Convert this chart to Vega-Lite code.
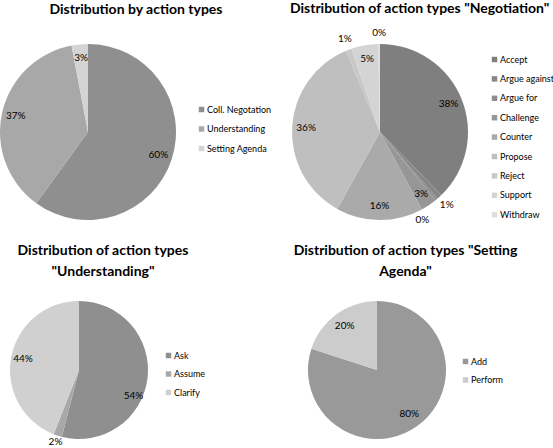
{
  "$schema": "https://vega.github.io/schema/vega-lite/v6.json",
  "padding": {"top": 2, "left": 0, "right": 0, "bottom": 0},
  "background": "white",
  "config": {
    "view": {"stroke": null},
    "font": "Lato",
    "title": {"font": "Lato", "fontSize": 14, "fontWeight": "bold", "color": "#000000", "anchor": "middle", "frame": "bounds", "lineHeight": 21},
    "legend": {"orient": "none", "title": null, "symbolType": "square", "symbolSize": 30, "symbolStrokeWidth": 0, "labelFont": "Lato", "labelFontSize": 9, "labelColor": "#000000", "labelOffset": 1, "rowPadding": 9.4},
    "text": {"font": "Lato", "fontSize": 10, "color": "#000000"}
  },
  "resolve": {"scale": {"color": "independent", "theta": "independent", "radius": "independent"}, "legend": {"color": "independent"}},
  "spacing": 19,
  "vconcat": [
    {
      "spacing": 13,
      "resolve": {"scale": {"color": "independent", "theta": "independent", "radius": "independent"}, "legend": {"color": "independent"}},
      "hconcat": [
        {
          "width": 176, "height": 176,
          "title": {"text": "Distribution by action types", "offset": 27},
          "data": {"values": [
            {"type": "Coll. Negotation", "v": 0.60, "o": 1},
            {"type": "Understanding", "v": 0.37, "o": 2},
            {"type": "Setting Agenda", "v": 0.03, "o": 3}
          ]},
          "encoding": {
            "theta": {"field": "v", "type": "quantitative", "stack": true},
            "order": {"field": "o", "type": "quantitative"}
          },
          "layer": [
            {
              "mark": {"type": "arc", "outerRadius": 88},
              "encoding": {
                "color": {"field": "type", "type": "nominal",
                  "scale": {"domain": ["Coll. Negotation", "Understanding", "Setting Agenda"], "range": ["#8f8f8f", "#a8a8a8", "#d4d4d4"]},
                  "legend": {"legendX": 197, "legendY": 61, "rowPadding": 9.5}}
              }
            },
            {
              "mark": {"type": "text", "radius": 74},
              "encoding": {"text": {"field": "v", "type": "quantitative", "format": ".0%"}}
            }
          ]
        },
        {
          "width": 176, "height": 176,
          "title": {"text": "Distribution of action types \"Negotiation\"", "offset": 12},
          "data": {"values": [
            {"type": "Accept", "v": 0.378, "o": 1},
            {"type": "Argue against", "v": 0.010, "o": 2},
            {"type": "Argue for", "v": 0.004, "o": 3},
            {"type": "Challenge", "v": 0.030, "o": 4},
            {"type": "Counter", "v": 0.160, "o": 5},
            {"type": "Propose", "v": 0.357, "o": 6},
            {"type": "Reject", "v": 0.010, "o": 7},
            {"type": "Support", "v": 0.050, "o": 8},
            {"type": "Withdraw", "v": 0.003, "o": 9}
          ]},
          "encoding": {
            "theta": {"field": "v", "type": "quantitative", "stack": true},
            "order": {"field": "o", "type": "quantitative"}
          },
          "layer": [
            {
              "mark": {"type": "arc", "outerRadius": 88},
              "encoding": {
                "color": {"field": "type", "type": "nominal",
                  "scale": {"domain": ["Accept", "Argue against", "Argue for", "Challenge", "Counter", "Propose", "Reject", "Support", "Withdraw"],
                            "range": ["#7f7f7f", "#878787", "#8e8e8e", "#969696", "#aaaaaa", "#bfbfbf", "#c8c8c8", "#d4d4d4", "#dedede"]},
                  "legend": {"legendX": 198, "legendY": 11}}
              }
            },
            {
              "mark": {"type": "text"},
              "encoding": {
                "radius": {"field": "v", "type": "quantitative", "scale": {"type": "linear", "domain": [0.015, 0.025], "range": [99, 74], "clamp": true, "zero": false}},
                "text": {"condition": {"test": "datum.type != 'Argue for'", "field": "v", "type": "quantitative", "format": ".0%"}, "value": ""}
              }
            },
            {
              "mark": {"type": "text", "dx": -21, "dy": 12},
              "encoding": {
                "radius": {"field": "v", "type": "quantitative", "scale": {"type": "linear", "domain": [0.015, 0.025], "range": [98, 74], "clamp": true, "zero": false}},
                "text": {"condition": {"test": "datum.type == 'Argue for'", "field": "v", "type": "quantitative", "format": ".0%"}, "value": ""}
              }
            }
          ]
        }
      ]
    },
    {
      "spacing": 87,
      "resolve": {"scale": {"color": "independent", "theta": "independent", "radius": "independent"}, "legend": {"color": "independent"}},
      "hconcat": [
        {
          "width": 158, "height": 138,
          "title": {"text": ["Distribution of action types", "\"Understanding\""], "offset": 22},
          "data": {"values": [
            {"type": "Ask", "v": 0.54, "o": 1},
            {"type": "Assume", "v": 0.02, "o": 2},
            {"type": "Clarify", "v": 0.44, "o": 3}
          ]},
          "encoding": {
            "theta": {"field": "v", "type": "quantitative", "stack": true},
            "order": {"field": "o", "type": "quantitative"}
          },
          "layer": [
            {
              "mark": {"type": "arc", "outerRadius": 69},
              "encoding": {
                "color": {"field": "type", "type": "nominal",
                  "scale": {"domain": ["Ask", "Assume", "Clarify"], "range": ["#8f8f8f", "#a8a8a8", "#d0d0d0"]},
                  "legend": {"legendX": 164, "legendY": 50, "rowPadding": 8.5}}
              }
            },
            {
              "mark": {"type": "text"},
              "encoding": {
                "radius": {"field": "v", "type": "quantitative", "scale": {"type": "linear", "domain": [0.025, 0.05], "range": [76, 57], "clamp": true, "zero": false}},
                "text": {"condition": {"test": "datum.type != 'Ask'", "field": "v", "type": "quantitative", "format": ".0%"}, "value": ""}
              }
            },
            {
              "mark": {"type": "text", "radius": 55, "dy": 19},
              "encoding": {"text": {"condition": {"test": "datum.type == 'Ask'", "field": "v", "type": "quantitative", "format": ".0%"}, "value": ""}}
            }
          ]
        },
        {
          "width": 138, "height": 138,
          "title": {"text": ["Distribution of action types \"Setting", "Agenda\""], "offset": 22},
          "data": {"values": [
            {"type": "Add", "v": 0.80, "o": 1},
            {"type": "Perform", "v": 0.20, "o": 2}
          ]},
          "encoding": {
            "theta": {"field": "v", "type": "quantitative", "stack": true},
            "order": {"field": "o", "type": "quantitative"}
          },
          "layer": [
            {
              "mark": {"type": "arc", "outerRadius": 69},
              "encoding": {
                "color": {"field": "type", "type": "nominal",
                  "scale": {"domain": ["Add", "Perform"], "range": ["#999999", "#cccccc"]},
                  "legend": {"legendX": 153, "legendY": 56, "rowPadding": 8.5}}
              }
            },
            {
              "mark": {"type": "text", "radius": 55},
              "encoding": {"text": {"field": "v", "type": "quantitative", "format": ".0%"}}
            }
          ]
        }
      ]
    }
  ]
}
